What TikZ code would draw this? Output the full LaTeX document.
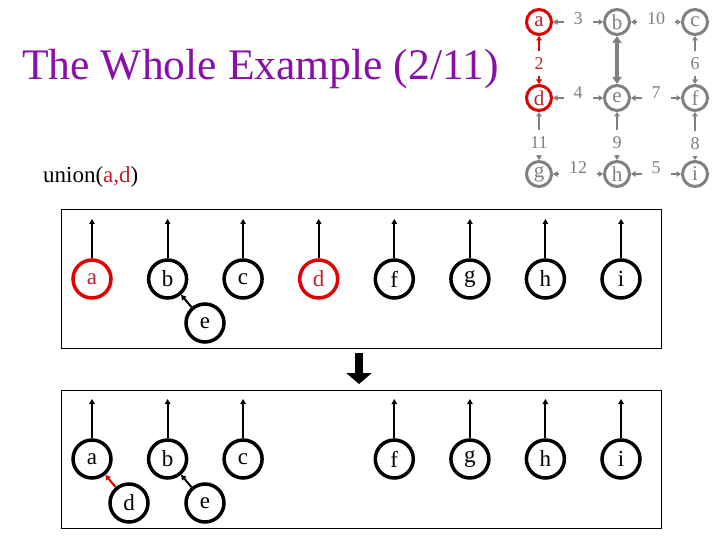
\documentclass[tikz,border=0pt]{standalone}
\usepackage{fontspec}
\setmainfont{Liberation Serif}
\usetikzlibrary{arrows.meta}
\definecolor{ttl}{RGB}{136,16,168}
\definecolor{gr}{RGB}{128,128,128}
\definecolor{rd}{RGB}{226,0,0}
\definecolor{dr}{RGB}{192,30,45}
\begin{document}
\begin{tikzpicture}[x=1pt,y=-1pt,
  gnode/.style={circle,draw=gr,line width=3pt,minimum size=25pt,inner sep=0pt,text=gr,font=\fontsize{21}{21}\selectfont},
  gred/.style={gnode,draw=rd,text=dr},
  glab/.style={fill=white,inner xsep=10pt,inner ysep=6.5pt,text=gr,font=\fontsize{18}{18}\selectfont},
  gedge/.style={draw=gr,line width=1.6pt,{Triangle[length=4.5pt,width=5.5pt]}-{Triangle[length=4.5pt,width=5.5pt]}},
  gthick/.style={draw=gr,line width=3.5pt,{Triangle[length=7pt,width=9pt]}-{Triangle[length=7pt,width=9pt]}},
  bnode/.style={circle,draw,line width=3.5pt,minimum size=38pt,inner sep=0pt,font=\fontsize{23}{23}\selectfont},
  bred/.style={bnode,draw=rd,text=dr},
  uparrow/.style={line width=2pt,-{Triangle[length=5pt,width=5.5pt]}},
  parrow/.style={line width=2pt,-{Triangle[length=5pt,width=5.5pt]}},
  box/.style={draw,line width=1pt}
]
\useasboundingbox (0,0) rectangle (720,540);

% title
\node[anchor=base west,inner sep=0pt,text=ttl,font=\fontsize{43.6}{44}\selectfont] (title) at (22,80) {The Whole Example (2/11)};
\node[anchor=base west,inner sep=0pt,font=\fontsize{23}{23}\selectfont] (union) at (43,183) {union(\textcolor{dr}{a,d})};

% graph top right
\node[gred]  (ga) at (539,22) {a};
\node[gnode] (gb) at (617,22) {b};
\node[gnode] (gc) at (695,22) {c};
\node[gred]  (gd) at (539,98) {d};
\node[gnode] (ge) at (617,98) {e};
\node[gnode] (gf) at (695,98) {f};
\node[gnode] (gg) at (539,174) {g};
\node[gnode] (gh) at (617,174) {h};
\node[gnode] (gi) at (695,174) {i};

\draw[gedge] (ga) -- node[glab,yshift=3pt] {3} (gb);
\draw[gedge] (gb) -- node[glab,yshift=3pt] {10} (gc);
\draw[gedge,draw=rd] (ga) -- node[glab,pos=.57,text=dr] {2} (gd);
\draw[gedge] (gc) -- node[glab,pos=.57] {6} (gf);
\draw[gthick] (gb) -- (ge);
\draw[gedge] (gd) -- node[glab,yshift=5pt] {4} (ge);
\draw[gedge] (ge) -- node[glab,yshift=5pt] {7} (gf);
\draw[gedge] (gd) -- node[glab,pos=.64] {11} (gg);
\draw[gedge] (ge) -- node[glab,pos=.64] {9} (gh);
\draw[gedge] (gf) -- node[glab,pos=.66] {8} (gi);
\draw[gedge] (gg) -- node[glab,yshift=6pt] {12} (gh);
\draw[gedge] (gh) -- node[glab,yshift=6pt] {5} (gi);

% boxes
\draw[box] (61,210) rectangle (661,348);
\draw[box] (61,390) rectangle (661,528);

% box 1
\node[bred]  (a1) at (92,279) {a};
\node[bnode] (b1) at (167.6,279) {b};
\node[bnode] (c1) at (243.1,279) {c};
\node[bred]  (d1) at (318.7,279) {d};
\node[bnode] (f1) at (394.3,279) {f};
\node[bnode] (g1) at (469.9,279) {g};
\node[bnode] (h1) at (545.4,279) {h};
\node[bnode] (i1) at (621,279) {i};
\node[bnode] (e1) at (205,323) {e};
\foreach \n/\x in {a1/92,b1/167.6,c1/243.1,d1/318.7,f1/394.3,g1/469.9,h1/545.4,i1/621}{
  \coordinate (t\n) at (\x,219);
  \draw[uparrow] (\n) -- (t\n);
}
\draw[parrow] (e1) -- (b1);

% big arrow
\coordinate (dtop) at (359,353);
\coordinate (dbot) at (359,384);
\draw[line width=8pt,-{Triangle[length=11pt,width=25pt]}] (dtop) -- (dbot);

% box 2
\node[bnode] (a2) at (92,459) {a};
\node[bnode] (b2) at (167.6,459) {b};
\node[bnode] (c2) at (243.1,459) {c};
\node[bnode] (f2) at (394.3,459) {f};
\node[bnode] (g2) at (469.9,459) {g};
\node[bnode] (h2) at (545.4,459) {h};
\node[bnode] (i2) at (621,459) {i};
\node[bnode] (d2) at (129,503) {d};
\node[bnode] (e2) at (205,503) {e};
\foreach \n/\x in {a2/92,b2/167.6,c2/243.1,f2/394.3,g2/469.9,h2/545.4,i2/621}{
  \coordinate (t\n) at (\x,399);
  \draw[uparrow] (\n) -- (t\n);
}
\draw[parrow,draw=rd,fill=rd] (d2) -- (a2);
\draw[parrow] (e2) -- (b2);
\end{tikzpicture}
\end{document}
